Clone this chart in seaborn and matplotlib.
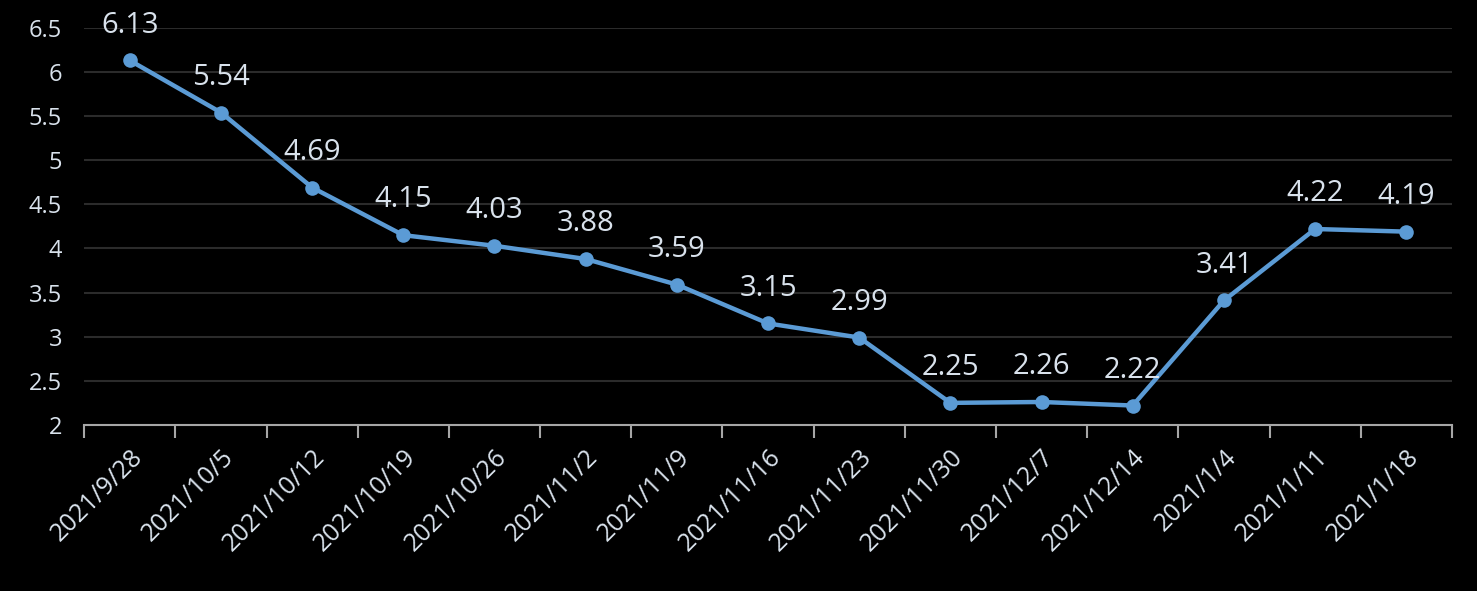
import matplotlib.pyplot as plt
import seaborn as sns
import pandas as pd

dates = ['2021/9/28', '2021/10/5', '2021/10/12', '2021/10/19', '2021/10/26',
         '2021/11/2', '2021/11/9', '2021/11/16', '2021/11/23', '2021/11/30',
         '2021/12/7', '2021/12/14', '2021/1/4', '2021/1/11', '2021/1/18']
values = [6.13, 5.54, 4.69, 4.15, 4.03, 3.88, 3.59, 3.15, 2.99,
          2.25, 2.26, 2.22, 3.41, 4.22, 4.19]

df = pd.DataFrame({'date': dates, 'value': values})

sns.set_style('dark')
plt.rcParams['font.family'] = ['Open Sans', 'DejaVu Sans']

txt_color = '#D9E2EC'
line_color = '#5B9BD5'

fig = plt.figure(figsize=(14.77, 5.91), dpi=100, facecolor='black')
ax = fig.add_axes([0.057, 0.281, 0.926, 0.672])
ax.set_facecolor('black')

sns.lineplot(data=df, x='date', y='value', ax=ax, color=line_color,
             linewidth=3.2, marker='o', markersize=10.5, markeredgewidth=0,
             sort=False)

for i, v in enumerate(values):
    ax.annotate(f'{v:.2f}', (i, v), xytext=(0, 15), textcoords='offset points',
                ha='center', va='bottom', fontsize=21, color=txt_color)

n = len(dates)
ax.set_xlim(-0.5, n - 0.5)
ax.set_ylim(2, 6.5)
ax.set_yticks([2, 2.5, 3, 3.5, 4, 4.5, 5, 5.5, 6, 6.5])
ax.set_yticklabels(['2', '2.5', '3', '3.5', '4', '4.5', '5', '5.5', '6', '6.5'])
ax.set_xticks(range(n))
ax.set_xticklabels(dates, rotation=45, ha='right', rotation_mode='anchor')
ax.set_xticks([i - 0.5 for i in range(n + 1)], minor=True)

ax.tick_params(axis='x', which='major', bottom=True, length=0, pad=14,
               labelsize=18, labelcolor=txt_color)
ax.tick_params(axis='x', which='minor', bottom=True, length=9, width=1.5,
               color='#A6A6A6', direction='out')
ax.tick_params(axis='y', length=0, pad=16, labelsize=17, labelcolor=txt_color)

ax.grid(axis='y', color='#2B2B2B', linewidth=1.5)
ax.grid(axis='x', visible=False)
ax.set_xlabel('')
ax.set_ylabel('')
for s in ['top', 'right', 'left']:
    ax.spines[s].set_visible(False)
ax.spines['bottom'].set_visible(True)
ax.spines['bottom'].set_color('#A6A6A6')
ax.spines['bottom'].set_linewidth(1.5)

fig.savefig('out.png', dpi=100, facecolor='black')
